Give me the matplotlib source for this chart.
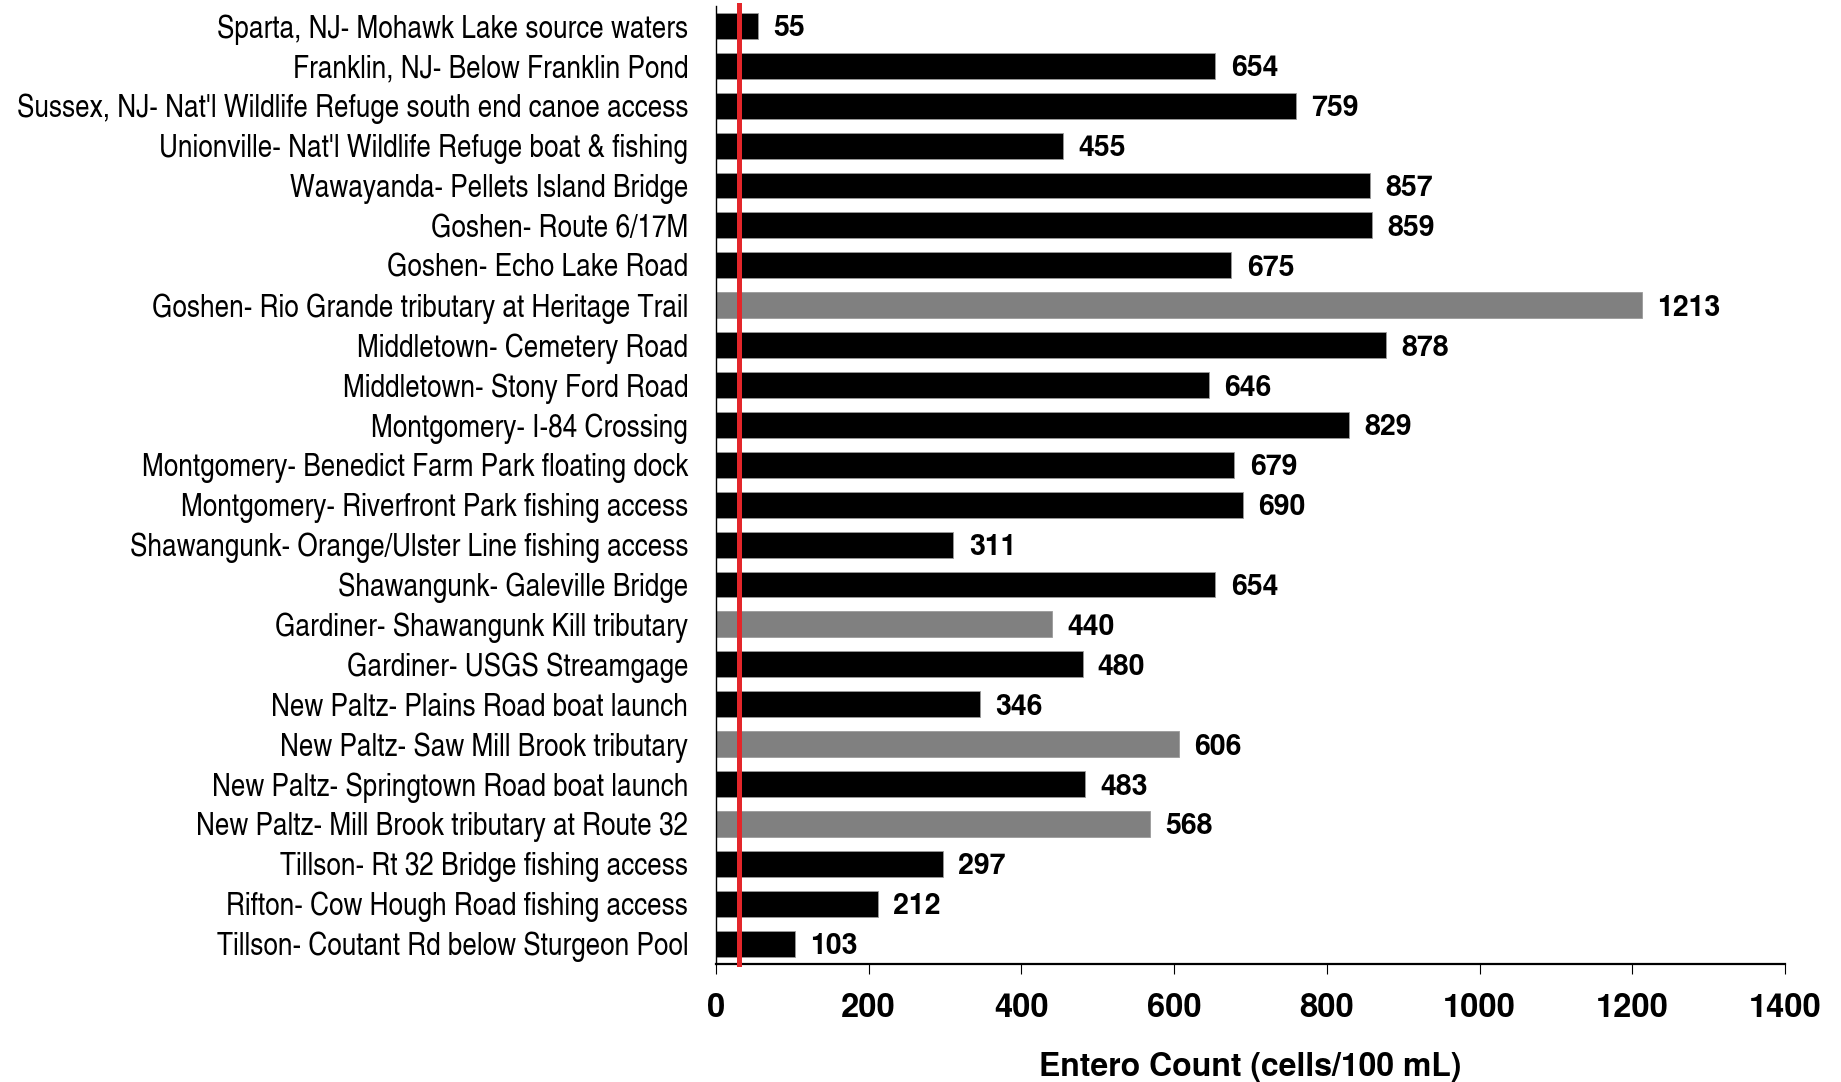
import matplotlib
matplotlib.use("Agg")
import matplotlib.pyplot as plt

# -----------------------------------------------------------
# DATA
# -----------------------------------------------------------
sites = [
    "Sparta, NJ- Mohawk Lake source waters",
    "Franklin, NJ- Below Franklin Pond",
    "Sussex, NJ- Nat'l Wildlife Refuge south end canoe access",
    "Unionville- Nat'l Wildlife Refuge boat & fishing",
    "Wawayanda- Pellets Island Bridge",
    "Goshen- Route 6/17M",
    "Goshen- Echo Lake Road",
    "Goshen- Rio Grande tributary at Heritage Trail",
    "Middletown- Cemetery Road",
    "Middletown- Stony Ford Road",
    "Montgomery- I-84 Crossing",
    "Montgomery- Benedict Farm Park floating dock",
    "Montgomery- Riverfront Park fishing access",
    "Shawangunk- Orange/Ulster Line fishing access",
    "Shawangunk- Galeville Bridge",
    "Gardiner- Shawangunk Kill tributary",
    "Gardiner- USGS Streamgage",
    "New Paltz- Plains Road boat launch",
    "New Paltz- Saw Mill Brook tributary",
    "New Paltz- Springtown Road boat launch",
    "New Paltz- Mill Brook tributary at Route 32",
    "Tillson- Rt 32 Bridge fishing access",
    "Rifton- Cow Hough Road fishing access",
    "Tillson- Coutant Rd below Sturgeon Pool",
]
entero = [55, 654, 759, 455, 857, 859, 675, 1213, 878, 646, 829, 679,
          690, 311, 654, 440, 480, 346, 606, 483, 568, 297, 212, 103]
tributary = [False, False, False, False, False, False, False, True,
             False, False, False, False, False, False, False, True,
             False, False, True, False, True, False, False, False]
standard = 30
xticks = [0, 200, 400, 600, 800, 1000, 1200, 1400]

HELV = ["TeX Gyre Heros", "Liberation Sans", "DejaVu Sans"]
HELV_CN = ["TeX Gyre Heros Cn", "TeX Gyre Heros", "DejaVu Sans"]

fig = plt.figure(figsize=(18.41, 10.82), dpi=100)
ax = fig.add_axes([0.3889, 0.1091, 0.5807, 0.8854])

ypos = list(range(len(sites)))
colors = ["#808080" if t else "#000000" for t in tributary]
ax.barh(ypos, entero, height=0.65, color=colors, edgecolor="#9a9a9a", linewidth=0.6)

# value labels
for y, v in zip(ypos, entero):
    ax.annotate(str(v), (v, y), xytext=(11, 0), textcoords="offset points",
                va="center_baseline", ha="left", fontsize=20.5, fontweight="bold", family=HELV)

# standard line
ax.axvline(standard, ymin=0, ymax=1.001, color="#e3262a", lw=3.6, clip_on=False, zorder=5)

ax.set_xlim(0, 1400)
ax.set_ylim(len(sites) - 1 + 0.51, -0.5)
ax.set_yticks(ypos)
ax.set_yticklabels(sites, fontsize=23, family=HELV_CN)
ax.tick_params(axis="y", length=0, pad=20)
ax.set_xticks(xticks)
ax.set_xticklabels([str(t) for t in xticks], fontsize=23.5, fontweight="bold", family=HELV)
ax.tick_params(axis="x", length=7, width=0.8, direction="out", pad=14)
ax.set_xlabel("Entero Count (cells/100 mL)", fontsize=23, fontweight="bold", family=HELV, labelpad=20)

for s in ["top", "right"]:
    ax.spines[s].set_visible(False)
ax.spines["left"].set_linewidth(1.0)
ax.spines["bottom"].set_linewidth(1.6)

fig.savefig("out.png", dpi=100)
